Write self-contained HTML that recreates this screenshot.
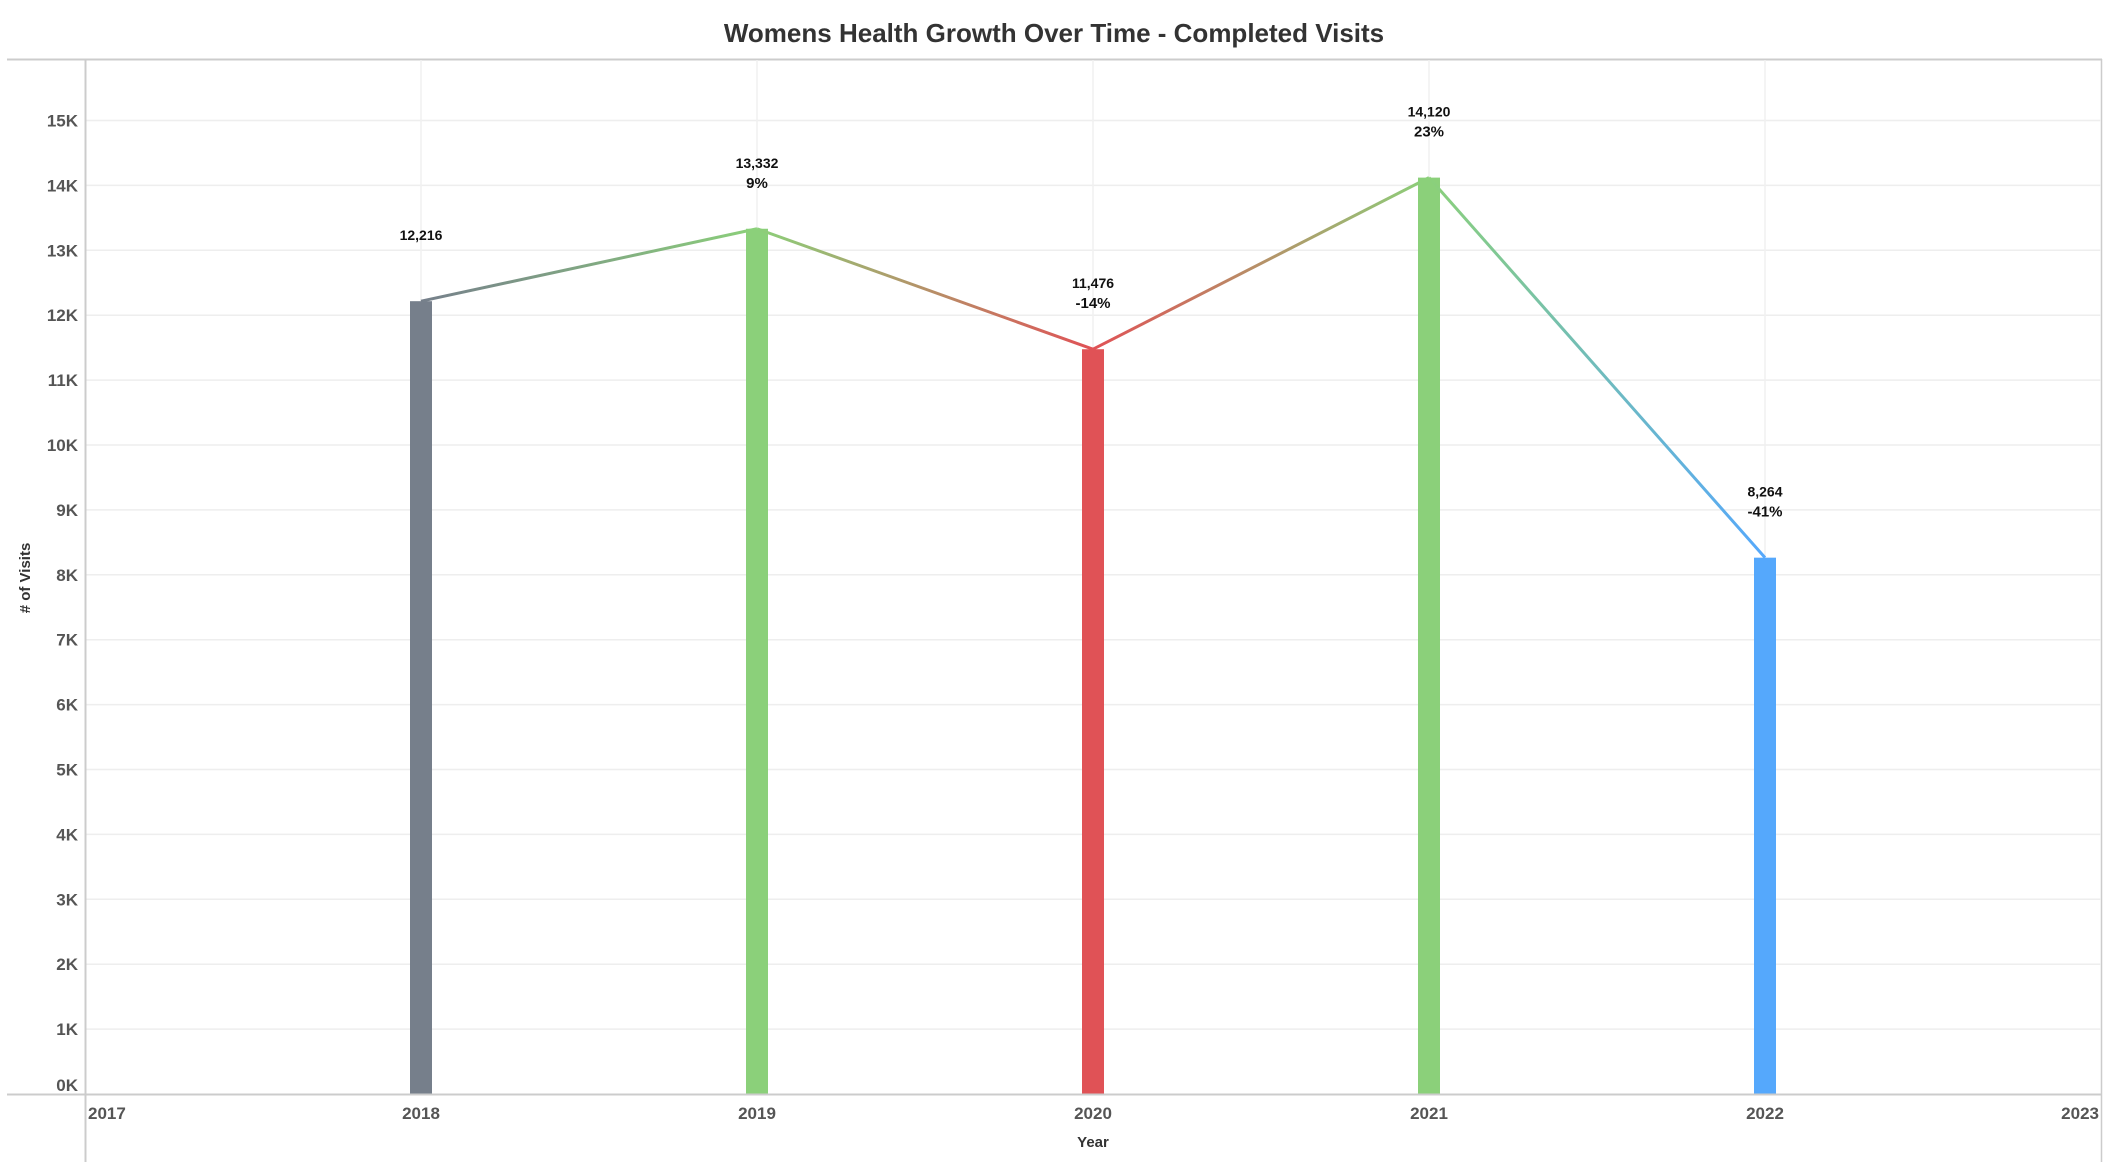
<!DOCTYPE html>
<html><head><meta charset="utf-8"><style>
body{margin:0;background:#fff;}
svg{display:block;font-family:"Liberation Sans",sans-serif;}
</style></head><body>
<svg id="chart" width="2110" height="1162">
<defs id="defs"></defs>
<text x="1054" y="42" text-anchor="middle" font-size="26" font-weight="bold" fill="#333">Womens Health Growth Over Time - Completed Visits</text>
<line x1="7" y1="59.5" x2="2102" y2="59.5" stroke="#ccc" stroke-width="2"/>
<line x1="2101.5" y1="59" x2="2101.5" y2="1162" stroke="#ccc" stroke-width="1.5"/>
<g id="grid"></g>
<g id="marks"></g>
<line x1="85.5" y1="59" x2="85.5" y2="1162" stroke="#ccc" stroke-width="2"/>
<line x1="7" y1="1094.5" x2="2102" y2="1094.5" stroke="#ccc" stroke-width="2"/>
<g id="axes"></g>
<text transform="translate(30,578) rotate(-90)" text-anchor="middle" font-size="15" font-weight="bold" fill="#333"># of Visits</text>
<text x="1093" y="1147" text-anchor="middle" font-size="15" font-weight="bold" fill="#333">Year</text>
</svg>
<script>
const years=[2018,2019,2020,2021,2022];
const visits=[12216,13332,11476,14120,8264];
const pctLabels=["","9%","-14%","23%","-41%"];
const colors=["#767f8b","#8bd07a","#e05256","#8bd07a","#55a8fc"];
const yTicks=[0,1,2,3,4,5,6,7,8,9,10,11,12,13,14,15];
const xTicks=[2017,2018,2019,2020,2021,2022,2023];
const NS="http://www.w3.org/2000/svg";
function xs(y){return 85+(y-2017)*336;}
function ys(v){return 1094-v/1000*64.9;}
function mk(t,a,p){const e=document.createElementNS(NS,t);for(const k in a)e.setAttribute(k,a[k]);p.appendChild(e);return e;}
const grid=document.getElementById('grid'),marks=document.getElementById('marks'),axes=document.getElementById('axes'),defs=document.getElementById('defs');
yTicks.forEach(t=>{
 if(t>0){const g=mk('line',{x1:86,x2:2101,y1:ys(t*1000),y2:ys(t*1000),stroke:'#eee','stroke-width':1.5},grid);
 
 }
 const l=mk('text',{x:78,y:ys(t*1000)+(t===0?-3:6),'text-anchor':'end','font-size':17,'font-weight':'bold',fill:'#555'},axes);
 l.textContent=t+'K';
 
 
});
xTicks.forEach((t,i)=>{
 if(i>0&&i<xTicks.length-1){const g=mk('line',{x1:xs(t),x2:xs(t),y1:60,y2:1094,stroke:'#f0f0f0','stroke-width':1.5},grid);
 
 }
 const anchor=i===0?'start':(i===xTicks.length-1?'end':'middle');
 const l=mk('text',{x:i===0?xs(t)+3:(i===xTicks.length-1?xs(t)-2:xs(t)),y:1119,'text-anchor':anchor,'font-size':17,'font-weight':'bold',fill:'#555'},axes);
 l.textContent=t;
 
 
});
years.forEach((yr,i)=>{
 const x=xs(yr),y=ys(visits[i]);
 const b=mk('rect',{x:x-11,y:y,width:22,height:1094-y,fill:colors[i]},marks);
 
 
 if(i<years.length-1){
  const x2=xs(years[i+1]),y2=ys(visits[i+1]);
  const gr=mk('linearGradient',{id:'g'+i,gradientUnits:'userSpaceOnUse',x1:x,y1:y,x2:x2,y2:y2},defs);
  mk('stop',{offset:'0','stop-color':colors[i]},gr);
  mk('stop',{offset:'1','stop-color':colors[i+1]},gr);
  const ln=mk('line',{x1:x,y1:y,x2:x2,y2:y2,stroke:'url(#g'+i+')','stroke-width':3},marks);
  
  
 }
 const v=mk('text',{x:x,y:y-61,'text-anchor':'middle','font-size':14,'font-weight':'bold',fill:'#111'},marks);
 v.textContent=visits[i].toLocaleString('en-US');
 
 
 if(pctLabels[i]){const p=mk('text',{x:x,y:y-41,'text-anchor':'middle','font-size':15,'font-weight':'bold',fill:'#111'},marks);
 p.textContent=pctLabels[i];
 
 }
});
</script>
</body></html>
